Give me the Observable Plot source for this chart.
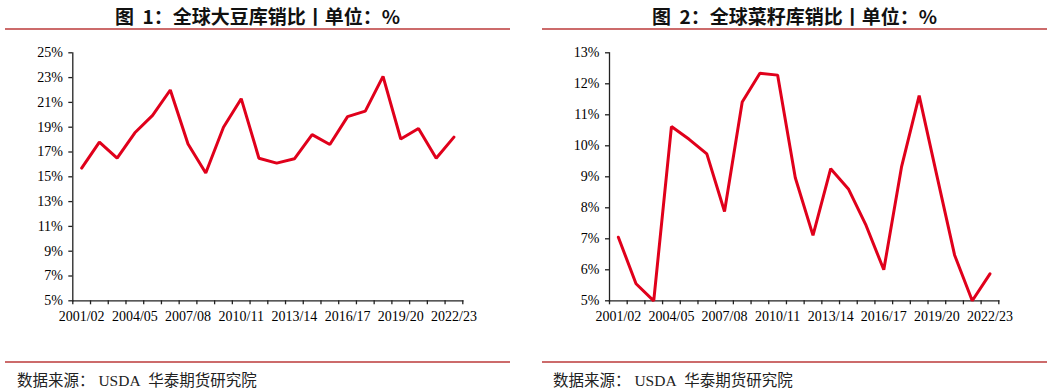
<!DOCTYPE html>
<html><head><meta charset="utf-8">
<script src="https://cdn.jsdelivr.net/npm/d3@7"></script>
<script src="https://cdn.jsdelivr.net/npm/@observablehq/plot@0.6"></script>
<style>
body{margin:0;background:#fff;width:1058px;height:391px;position:relative;overflow:hidden}
.title{position:absolute;top:2px;height:26px;line-height:26px;font:bold 19px "Noto Sans CJK SC",sans-serif;text-align:center;color:#111;white-space:nowrap}
.rule{position:absolute;height:2px;background:#cc6b6b}
.src{position:absolute;top:368px;font:15.5px "Liberation Serif","Noto Sans CJK SC",serif;color:#222;white-space:nowrap}
.chart{position:absolute;top:31px}
</style></head><body>
<div class="title" style="left:5px;width:505px">图&nbsp; 1：全球大豆库销比丨单位：%</div>
<div class="rule" style="left:5px;width:505px;top:28px"></div>
<div class="title" style="left:542px;width:505px">图&nbsp; 2：全球菜籽库销比丨单位：%</div>
<div class="rule" style="left:542px;width:505px;top:28px"></div>
<div id="c1" class="chart" style="left:0px"></div>
<div id="c2" class="chart" style="left:530px"></div>
<div class="rule" style="left:5px;width:505px;top:361px"></div>
<div class="rule" style="left:542px;width:505px;top:361px"></div>
<div class="src" style="left:17px">数据来源：&nbsp;USDA&nbsp;&nbsp;华泰期货研究院</div>
<div class="src" style="left:553px">数据来源：&nbsp;USDA&nbsp;&nbsp;华泰期货研究院</div>
<script>
const seasons = ["2001/02","2002/03","2003/04","2004/05","2005/06","2006/07","2007/08","2008/09","2009/10","2010/11","2011/12","2012/13","2013/14","2014/15","2015/16","2016/17","2017/18","2018/19","2019/20","2020/21","2021/22","2022/23"];
const soybean = [15.7,17.8,16.5,18.55,19.95,22.0,17.65,15.3,19.0,21.3,16.5,16.1,16.45,18.4,17.6,19.85,20.3,23.1,18.05,18.9,16.5,18.2];
const rapeseed = [7.05,5.55,5.0,10.62,10.21,9.74,7.88,11.41,12.34,12.28,8.97,7.11,9.26,8.61,7.43,6.0,9.31,11.62,9.04,6.48,5.0,5.87];
const soyTicks = [5,7,9,11,13,15,17,19,21,23,25];
const rapeTicks = [5,6,7,8,9,10,11,12,13];
const labelEvery = 3;

function panel(values, yTicks, opts) {
  const data = values.map((v, i) => ({i, season: seasons[i], v}));
  const boundaries = d3.range(seasons.length + 1).map(k => k - 0.5);
  const labelIdx = d3.range(0, seasons.length, labelEvery);
  return Plot.plot({
    width: opts.width,
    height: 310,
    marginLeft: opts.ml,
    marginRight: opts.mr,
    marginTop: 21.3,
    marginBottom: 40.7,
    style: {fontFamily: '"Liberation Serif", serif', fontSize: "14px", color: "#000", background: "transparent"},
    x: {type: "linear", domain: [-0.5, seasons.length - 0.5]},
    y: {domain: [yTicks[0], yTicks[yTicks.length - 1]]},
    marks: [
      Plot.axisY({ticks: yTicks, tickSize: 4, tickPadding: 6, tickFormat: d => d + "%", label: null, stroke: "#222", strokeWidth: 1.3}),
      Plot.axisX({ticks: boundaries, tickSize: 4, tickFormat: () => "", label: null, stroke: "#222", strokeWidth: 1.3}),
      Plot.axisX({ticks: labelIdx, tickSize: 0, tickPadding: 10, tickFormat: i => seasons[i], label: null}),
      Plot.frame({anchor: "left", stroke: "#222", strokeWidth: 1.3}),
      Plot.frame({anchor: "bottom", stroke: "#222", strokeWidth: 1.3}),
      Plot.line(data, {x: "i", y: "v", stroke: "#e0001b", strokeWidth: 3, strokeLinejoin: "miter"})
    ]
  });
}
document.getElementById("c1").append(panel(soybean, soyTicks, {width: 530, ml: 72.3, mr: 67.7}));
document.getElementById("c2").append(panel(rapeseed, rapeTicks, {width: 528, ml: 79, mr: 59.7}));
</script>
</body></html>
